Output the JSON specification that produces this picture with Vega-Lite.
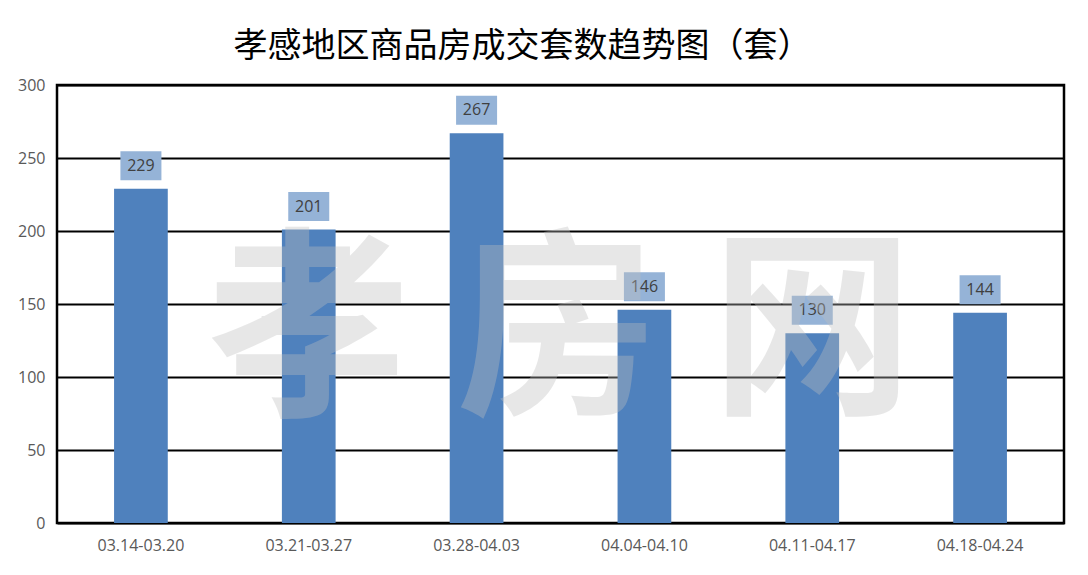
{
  "$schema": "https://vega.github.io/schema/vega-lite/v6.json",
  "width": 1007,
  "height": 438,
  "autosize": {"type": "none"},
  "padding": {"left": 57, "top": 85, "right": 24, "bottom": 52},
  "background": "white",
  "title": {
    "text": "孝感地区商品房成交套数趋势图（套）",
    "font": "Noto Sans CJK SC",
    "fontSize": 34,
    "fontWeight": "normal",
    "color": "#000000",
    "anchor": "middle",
    "frame": "group",
    "dx": -38,
    "baseline": "middle",
    "offset": -4
  },
  "config": {
    "view": {"stroke": "#000000", "strokeWidth": 2.5},
    "font": "Open Sans"
  },
  "layer": [
    {
      "data": {"name": "weeks", "values": [
        {"week": "03.14-03.20", "count": 229},
        {"week": "03.21-03.27", "count": 201},
        {"week": "03.28-04.03", "count": 267},
        {"week": "04.04-04.10", "count": 146},
        {"week": "04.11-04.17", "count": 130},
        {"week": "04.18-04.24", "count": 144}
      ]},
      "encoding": {
        "x": {
          "field": "week",
          "type": "nominal",
          "sort": null,
          "scale": {"paddingInner": 0.68, "paddingOuter": 0.34},
          "axis": {
            "title": null,
            "labelAngle": 0,
            "labelFont": "Open Sans",
            "labelFontSize": 16,
            "labelColor": "#595959",
            "labelPadding": 14,
            "ticks": false,
            "domain": false
          }
        },
        "y": {
          "field": "count",
          "type": "quantitative",
          "scale": {"domain": [0, 300], "nice": false},
          "axis": {
            "title": null,
            "values": [0, 50, 100, 150, 200, 250, 300],
            "labelFont": "Open Sans",
            "labelFontSize": 16,
            "labelColor": "#595959",
            "labelPadding": 12,
            "ticks": false,
            "domain": false,
            "grid": true,
            "gridColor": "#000000",
            "gridWidth": 2,
            "gridOpacity": 1
          }
        }
      },
      "layer": [
        {"mark": {"type": "bar", "color": "#4F81BD"}},
        {
          "mark": {
            "type": "point",
            "shape": "M-1.414,-1H1.414V1H-1.414Z",
            "size": 841,
            "filled": true,
            "opacity": 1,
            "color": "#95B3D7",
            "yOffset": -23
          }
        },
        {
          "mark": {
            "type": "text",
            "font": "Open Sans",
            "fontSize": 16,
            "color": "#404040",
            "align": "center",
            "baseline": "middle",
            "yOffset": -23
          },
          "encoding": {"text": {"field": "count", "type": "quantitative"}}
        }
      ]
    },
    {
      "data": {"values": [
        {"ch": "孝", "at": "03.21-03.27"},
        {"ch": "网", "at": "04.11-04.17"}
      ]},
      "mark": {
        "type": "text",
        "font": "Noto Sans CJK SC",
        "fontWeight": "bold",
        "fontSize": 202,
        "color": "#BFBFBF",
        "opacity": 0.36,
        "align": "center",
        "baseline": "middle"
      },
      "encoding": {
        "x": {"field": "at", "type": "nominal", "sort": null},
        "y": {"datum": 127, "type": "quantitative"},
        "text": {"field": "ch", "type": "nominal"}
      }
    },
    {
      "data": {"values": [{"ch": "房", "at": "03.28-04.03"}]},
      "mark": {
        "type": "text",
        "font": "Noto Sans CJK SC",
        "fontWeight": "bold",
        "fontSize": 202,
        "color": "#BFBFBF",
        "opacity": 0.36,
        "align": "center",
        "baseline": "middle"
      },
      "encoding": {
        "x": {"field": "at", "type": "nominal", "sort": null, "bandPosition": 2},
        "y": {"datum": 127, "type": "quantitative"},
        "text": {"field": "ch", "type": "nominal"}
      }
    }
  ]
}
